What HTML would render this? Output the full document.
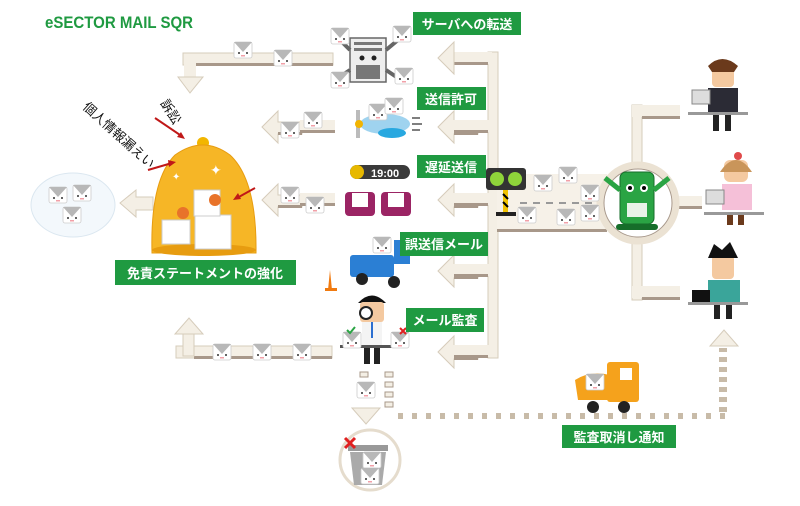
<!DOCTYPE html>
<html><head><meta charset="utf-8">
<style>
html,body{margin:0;padding:0;background:#fff;}
svg{display:block;font-family:"Liberation Sans","Noto Sans CJK JP",sans-serif;}
.lb{fill:#fff;font-size:13px;font-weight:bold;}
</style></head>
<body>
<svg width="800" height="506" viewBox="0 0 800 506" xmlns="http://www.w3.org/2000/svg">
<defs>
<g id="env">
 <rect x="-9" y="-8" width="18" height="16" rx="2" fill="#fff" stroke="#ccc" stroke-width="0.8"/>
 <path d="M-9 -8 L0 2 L9 -8 Z" fill="#b8b8b8"/>
 <circle cx="-4" cy="3" r="1" fill="#333"/><circle cx="4" cy="3" r="1" fill="#333"/>
 <rect x="-2" y="5" width="4" height="1.5" fill="#f2a0a8"/>
</g>
<g id="larr">
 <polygon points="0,0 16,-16 16,-5 40,-5 40,7 16,7 16,16" fill="#f4efe5" stroke="#d6ccbb" stroke-width="1"/>
 <rect x="16" y="5" width="24" height="3" fill="#a8988a"/>
</g>
</defs>

<!-- title -->
<text x="45" y="28" fill="#1f9a41" font-size="17" font-weight="bold" textLength="148" lengthAdjust="spacingAndGlyphs">eSECTOR MAIL SQR</text>

<!-- trunk -->
<rect x="488" y="52" width="10" height="306" fill="#f4efe5" stroke="#d6ccbb"/>
<g>
 <rect x="450" y="52" width="42" height="12" fill="#f4efe5"/><rect x="454" y="62" width="34" height="3" fill="#a8988a"/>
 <polygon points="438,58 454,42 454,74" fill="#f4efe5" stroke="#d6ccbb"/>
</g>
<use href="#larr" x="438" y="127"/>
<use href="#larr" x="438" y="200"/>
<use href="#larr" x="438" y="271"/>
<use href="#larr" x="438" y="352"/>
<rect x="452" y="120" width="40" height="12" fill="#f4efe5"/><rect x="454" y="130" width="34" height="3" fill="#a8988a"/>
<rect x="452" y="193" width="40" height="12" fill="#f4efe5"/><rect x="454" y="203" width="34" height="3" fill="#a8988a"/>
<rect x="452" y="264" width="40" height="12" fill="#f4efe5"/><rect x="454" y="274" width="34" height="3" fill="#a8988a"/>
<rect x="452" y="345" width="40" height="12" fill="#f4efe5"/><rect x="454" y="355" width="34" height="3" fill="#a8988a"/>

<!-- right band -->
<rect x="497" y="174" width="110" height="58" fill="#f6f1e8"/>
<rect x="497" y="229" width="110" height="3" fill="#a8988a"/>
<line x1="520" y1="203" x2="610" y2="203" stroke="#999" stroke-width="2" stroke-dasharray="7,6"/>
<rect x="632" y="105" width="10" height="195" fill="#f4efe5" stroke="#d6ccbb"/>
<rect x="632" y="105" width="48" height="12" fill="#f4efe5"/><rect x="642" y="116" width="38" height="3" fill="#a8988a"/>
<rect x="632" y="196" width="70" height="12" fill="#f4efe5"/><rect x="676" y="206" width="26" height="3" fill="#a8988a"/>
<rect x="632" y="286" width="48" height="12" fill="#f4efe5"/><rect x="642" y="297" width="38" height="3" fill="#a8988a"/>
<circle cx="638" cy="203" r="38" fill="#fff" stroke="#ebe2d3" stroke-width="7"/>
<circle cx="638" cy="203" r="34" fill="none" stroke="#a8988a" stroke-width="1"/>
<rect x="620" y="172" width="34" height="52" rx="6" fill="#2aa444" stroke="#166e2a"/>
<rect x="616" y="224" width="42" height="6" rx="3" fill="#166e2a"/>
<circle cx="630" cy="188" r="4" fill="#fff"/><circle cx="644" cy="188" r="4" fill="#fff"/>
<circle cx="630" cy="188" r="2" fill="#000"/><circle cx="644" cy="188" r="2" fill="#000"/>
<rect x="627" y="203" width="20" height="14" fill="#e8f3e8"/>
<path d="M620 190 L605 178 M654 190 L669 178" stroke="#2aa444" stroke-width="5"/>

<rect x="486" y="168" width="40" height="22" rx="3" fill="#333"/>
<circle cx="497" cy="179" r="7" fill="#8fd43a"/><circle cx="515" cy="179" r="7" fill="#8fd43a"/>
<rect x="503" y="190" width="5" height="22" fill="#f2c200"/>
<path d="M503 194 L508 199 M503 202 L508 207" stroke="#000" stroke-width="2"/>
<rect x="496" y="212" width="20" height="4" fill="#222"/>

<use href="#env" x="543" y="183"/><use href="#env" x="568" y="175"/><use href="#env" x="590" y="193"/>
<use href="#env" x="527" y="215"/><use href="#env" x="566" y="217"/><use href="#env" x="590" y="213"/>

<g>
 <rect x="712" y="65" width="22" height="22" rx="4" fill="#f4c9a0"/><path d="M708 66 Q722 52 738 66 L734 72 L712 72Z" fill="#6b3a1c"/>
 <rect x="708" y="88" width="30" height="26" fill="#2b2b35"/>
 <rect x="692" y="90" width="18" height="14" fill="#ddd" stroke="#888"/>
 <rect x="688" y="112" width="60" height="3" fill="#999"/>
 <rect x="713" y="115" width="6" height="16" fill="#222"/><rect x="725" y="115" width="6" height="16" fill="#222"/>
</g>
<g>
 <circle cx="738" cy="156" r="4" fill="#e04a4a"/>
 <rect x="724" y="160" width="24" height="22" rx="6" fill="#f4c9a0"/><path d="M720 172 Q736 148 752 172Z" fill="#c9955a"/>
 <rect x="722" y="184" width="30" height="26" fill="#f5c0d8"/>
 <rect x="706" y="190" width="18" height="14" fill="#ddd" stroke="#888"/>
 <rect x="704" y="212" width="60" height="3" fill="#999"/>
 <rect x="727" y="215" width="6" height="10" fill="#6b3a1c"/><rect x="738" y="215" width="6" height="10" fill="#6b3a1c"/>
</g>
<g>
 <rect x="712" y="255" width="22" height="24" rx="4" fill="#f4c9a0"/><path d="M708 258 L714 244 L722 250 L730 242 L738 258Z" fill="#111"/>
 <rect x="708" y="280" width="32" height="24" fill="#3aa59a"/>
 <rect x="692" y="290" width="18" height="12" fill="#111"/>
 <rect x="688" y="302" width="60" height="3" fill="#999"/>
 <rect x="714" y="305" width="6" height="14" fill="#222"/><rect x="726" y="305" width="6" height="14" fill="#222"/>
</g>

<rect x="350" y="38" width="36" height="44" fill="#eee" stroke="#666" stroke-width="1.5"/>
<rect x="354" y="42" width="28" height="3" fill="#777"/><rect x="354" y="48" width="28" height="3" fill="#777"/>
<circle cx="362" cy="58" r="2.5" fill="#222"/><circle cx="374" cy="58" r="2.5" fill="#222"/>
<rect x="356" y="65" width="24" height="14" fill="#777"/>
<path d="M350 50 L340 40 M350 70 L338 78 M386 50 L398 40 M386 70 L398 78" stroke="#666" stroke-width="4"/>
<use href="#env" x="340" y="36"/><use href="#env" x="402" y="34"/><use href="#env" x="340" y="80"/><use href="#env" x="404" y="76"/>
<rect x="183" y="53" width="150" height="12" fill="#f4efe5" stroke="#d6ccbb"/>
<rect x="195" y="63" width="138" height="3" fill="#a8988a"/>
<rect x="184" y="54" width="12" height="24" fill="#f4efe5"/>
<polygon points="178,77 203,77 190,93" fill="#f4efe5" stroke="#d6ccbb"/>
<use href="#env" x="243" y="50"/><use href="#env" x="283" y="58"/>

<ellipse cx="385" cy="124" rx="25" ry="10" fill="#9fd3ef"/>
<ellipse cx="392" cy="133" rx="14" ry="5" fill="#28a8e0"/>
<rect x="356" y="110" width="4" height="28" fill="#bbb"/><circle cx="359" cy="124" r="4" fill="#f2b400"/>
<use href="#env" x="378" y="112"/><use href="#env" x="394" y="106"/>
<path d="M412 118 h8 M412 124 h10 M412 130 h8" stroke="#555" stroke-width="1.5"/>
<use href="#larr" x="262" y="127"/><rect x="300" y="120" width="35" height="12" fill="#f4efe5"/><rect x="300" y="130" width="35" height="3" fill="#a8988a"/>
<use href="#env" x="290" y="130"/><use href="#env" x="313" y="120"/>

<rect x="350" y="165" width="60" height="14" rx="7" fill="#3a3a3a"/>
<circle cx="357" cy="172" r="7" fill="#e7b800"/>
<text x="371" y="177" fill="#fff" font-size="11" font-weight="bold">19:00</text>
<rect x="345" y="192" width="30" height="24" rx="4" fill="#9b2464"/><rect x="381" y="192" width="30" height="24" rx="4" fill="#9b2464"/>
<rect x="352" y="193" width="16" height="14" fill="#fff"/><rect x="388" y="193" width="16" height="14" fill="#fff"/>
<use href="#larr" x="262" y="200"/><rect x="300" y="193" width="35" height="12" fill="#f4efe5"/><rect x="300" y="203" width="35" height="3" fill="#a8988a"/>
<use href="#env" x="290" y="195"/><use href="#env" x="315" y="205"/>

<rect x="350" y="255" width="44" height="22" rx="3" fill="#2b7fd4"/>
<rect x="394" y="240" width="16" height="24" fill="#2b7fd4"/>
<circle cx="362" cy="279" r="6" fill="#222"/><circle cx="394" cy="282" r="6" fill="#222"/>
<use href="#env" x="382" y="245"/>
<polygon points="332,290 328,290 330,270" fill="#f07a10"/><rect x="325" y="288" width="12" height="3" fill="#f07a10"/>

<path d="M358 303 Q372 288 386 303 Z" fill="#111"/>
<rect x="360" y="302" width="24" height="20" rx="3" fill="#f4c9a0"/>
<circle cx="366" cy="313" r="6" fill="#fff" stroke="#222" stroke-width="2"/>
<rect x="362" y="322" width="20" height="24" fill="#f4f4f4"/><rect x="371" y="322" width="2" height="16" fill="#2b6fd0"/>
<rect x="340" y="345" width="68" height="3" fill="#555"/>
<rect x="364" y="348" width="6" height="16" fill="#222"/><rect x="374" y="348" width="6" height="16" fill="#222"/>
<use href="#env" x="352" y="340"/><use href="#env" x="400" y="340"/>
<path d="M347 330 l3 3 l5 -6" stroke="#2aa444" stroke-width="2" fill="none"/>
<path d="M400 328 l6 6 M406 328 l-6 6" stroke="#e02020" stroke-width="2"/>

<rect x="176" y="346" width="156" height="12" fill="#f4efe5" stroke="#d6ccbb"/>
<rect x="194" y="356" width="138" height="3" fill="#a8988a"/>
<rect x="183" y="332" width="11" height="24" fill="#f4efe5" stroke="#d6ccbb"/>
<polygon points="175,334 203,334 189,318" fill="#f4efe5" stroke="#d6ccbb"/>
<use href="#env" x="222" y="352"/><use href="#env" x="262" y="352"/><use href="#env" x="302" y="352"/>

<g fill="#f4efe5" stroke="#a8988a" stroke-width="1">
 <rect x="360" y="372" width="8" height="5"/><rect x="385" y="372" width="8" height="5"/>
 <rect x="385" y="382" width="8" height="5"/><rect x="385" y="392" width="8" height="5"/><rect x="385" y="402" width="8" height="5"/>
</g>
<use href="#env" x="366" y="390"/>
<polygon points="352,408 380,408 366,424" fill="#f4efe5" stroke="#d6ccbb"/>
<line x1="398" y1="416" x2="728" y2="416" stroke="#c8bba8" stroke-width="6" stroke-dasharray="5,9"/>
<line x1="723" y1="412" x2="723" y2="348" stroke="#c8bba8" stroke-width="8" stroke-dasharray="5,5"/>
<polygon points="710,346 738,346 724,330" fill="#f4efe5" stroke="#d6ccbb"/>

<circle cx="370" cy="460" r="30" fill="#fff" stroke="#e5dccd" stroke-width="3"/>
<rect x="348" y="445" width="40" height="6" fill="#999"/>
<polygon points="350,452 386,452 382,485 354,485" fill="#aaa"/>
<use href="#env" x="372" y="460"/><use href="#env" x="370" y="476"/>
<path d="M345 438 l10 10 M355 438 l-10 10" stroke="#e02020" stroke-width="3"/>

<path d="M575 380 Q590 370 610 375 L610 400 L578 400 Z" fill="#f5a21c"/>
<rect x="607" y="362" width="32" height="40" rx="3" fill="#f5a21c"/>
<rect x="620" y="368" width="12" height="12" fill="#fff"/>
<circle cx="593" cy="407" r="6" fill="#222"/><circle cx="624" cy="407" r="6" fill="#222"/>
<use href="#env" x="595" y="382"/>

<ellipse cx="73" cy="205" rx="42" ry="32" fill="#f3f8fc" stroke="#dbe7f0"/>
<use href="#env" x="58" y="195"/><use href="#env" x="82" y="193"/><use href="#env" x="72" y="215"/>
<polygon points="120,203 136,190 136,197 153,197 153,210 136,210 136,217" fill="#f4efe5" stroke="#d6ccbb"/>
<circle cx="203" cy="143" r="6" fill="#f2b600"/>
<path d="M152 253 Q150 180 175 155 Q203 135 230 155 Q257 180 256 253 Z" fill="#f6b626" stroke="#e79c10"/>
<ellipse cx="204" cy="250" rx="52" ry="6" fill="#e79c10"/>
<rect x="162" y="220" width="28" height="24" fill="#fff" stroke="#ccc"/>
<rect x="195" y="215" width="36" height="34" fill="#fff" stroke="#ccc"/>
<rect x="194" y="190" width="26" height="26" fill="#fff" stroke="#ccc"/>
<circle cx="183" cy="213" r="6" fill="#e8732a"/><circle cx="215" cy="200" r="6" fill="#e8732a"/>
<text x="210" y="175" fill="#fff" font-size="14">✦</text><text x="172" y="180" fill="#fff" font-size="10">✦</text>
<path d="M155 118 L183 137" stroke="#c01818" stroke-width="2"/><polygon points="185,139 177,137 181,132" fill="#c01818"/>
<path d="M148 170 L172 163" stroke="#c01818" stroke-width="2"/><polygon points="176,162 169,167 168,160" fill="#c01818"/>
<path d="M255 188 L237 198" stroke="#c01818" stroke-width="2"/><polygon points="233,200 238,193 241,199" fill="#c01818"/>
<text transform="translate(82,108) rotate(42)" font-size="13" fill="#111">個人情報漏えい</text>
<text transform="translate(160,103) rotate(58)" font-size="13" fill="#111">訴訟</text>

<rect x="413" y="12" width="108" height="23" fill="#1f9a41"/><text class="lb" x="467" y="29" text-anchor="middle">サーバへの転送</text>
<rect x="417" y="87" width="69" height="23" fill="#1f9a41"/><text class="lb" x="451" y="104" text-anchor="middle">送信許可</text>
<rect x="417" y="155" width="69" height="23" fill="#1f9a41"/><text class="lb" x="451" y="172" text-anchor="middle">遅延送信</text>
<rect x="400" y="232" width="88" height="24" fill="#1f9a41"/><text class="lb" x="444" y="249" text-anchor="middle">誤送信メール</text>
<rect x="406" y="308" width="78" height="24" fill="#1f9a41"/><text class="lb" x="445" y="325" text-anchor="middle">メール監査</text>
<rect x="115" y="260" width="181" height="25" fill="#1f9a41"/><text class="lb" x="205" y="278" text-anchor="middle">免責ステートメントの強化</text>
<rect x="562" y="425" width="114" height="23" fill="#1f9a41"/><text class="lb" x="619" y="442" text-anchor="middle">監査取消し通知</text>
</svg>
</body></html>
